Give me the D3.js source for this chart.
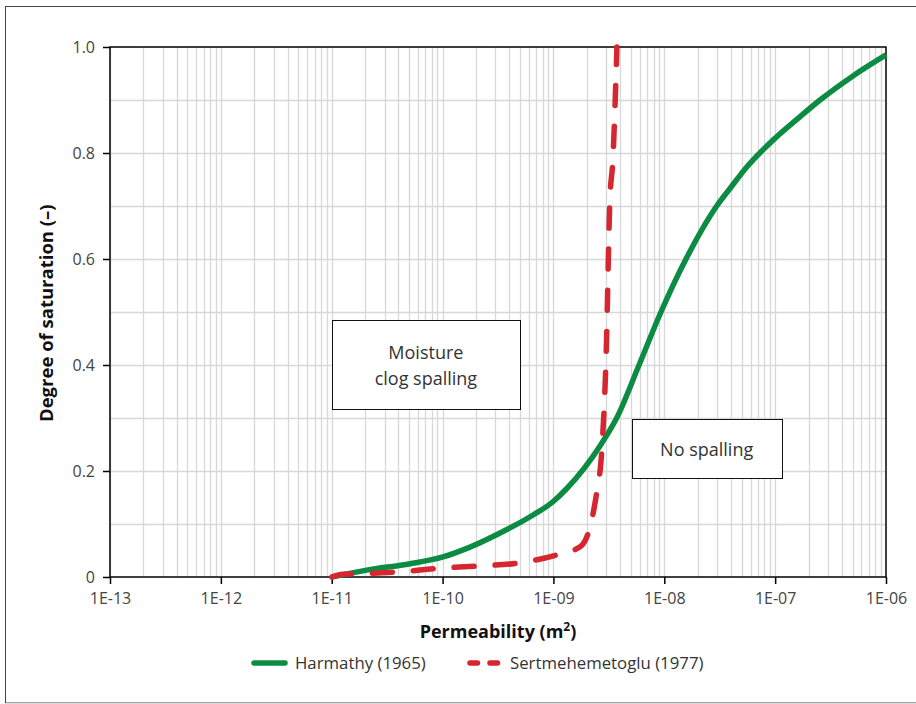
<!DOCTYPE html>
<html>
<head>
<meta charset="utf-8">
<script src="https://cdn.jsdelivr.net/npm/d3@7"></script>
<style>
    body { margin: 0; background: #fff; }
    svg text { font-family: "Open Sans", "Noto Sans", sans-serif; }
</style>
</head>
<body>
<div id="chart"></div>
<script>
/*------------------- Data --------------------*/
const harmathyK = [1.0e-11, 2.07e-11, 5.1e-11, 1.01e-10, 1.66e-10, 3.30e-10, 6.55e-10, 9.9e-10, 1.32e-9,
    2.72e-9, 3.72e-9, 5.92e-9, 9.33e-9, 1.57e-8, 2.97e-8, 3.98e-8, 5.62e-8, 1.0e-7, 1.58e-7, 2.54e-7, 5.0e-7, 1.0e-6];
const harmathyS = [0, 0.013, 0.025, 0.038, 0.054, 0.083, 0.117, 0.142, 0.167,
    0.252, 0.30, 0.40, 0.50, 0.60, 0.70, 0.735, 0.775, 0.828, 0.864, 0.900, 0.945, 0.985];

const sertK = [1.0e-11, 1.26e-11, 2.2e-11, 4.8e-11, 1.0e-10, 2.2e-10, 4.7e-10, 1.0e-9, 1.74e-9,
    2.14e-9, 2.45e-9, 2.72e-9, 2.98e-9, 3.24e-9, 3.42e-9, 3.74e-9];
const sertS = [0, 0.005, 0.007, 0.011, 0.017, 0.021, 0.026, 0.040, 0.057,
    0.095, 0.158, 0.234, 0.41, 0.718, 0.78, 1.0];

const xTicks = [1e-13, 1e-12, 1e-11, 1e-10, 1e-9, 1e-8, 1e-7, 1e-6];
const xTickLabels = ["1E-13", "1E-12", "1E-11", "1E-10", "1E-09", "1E-08", "1E-07", "1E-06"];
const yTicks = [0, 0.2, 0.4, 0.6, 0.8, 1.0];
const yTickLabels = ["0", "0.2", "0.4", "0.6", "0.8", "1.0"];

const seriesNames = ["Harmathy (1965)", "Sertmehemetoglu (1977)"];
const annotations = [
    { lines: ["Moisture", "clog spalling"], k0: 1.0e-11, k1: 5.0e-10, s0: 0.317, s1: 0.485 },
    { lines: ["No spalling"], k0: 5.08e-9, k1: 1.145e-7, s0: 0.186, s1: 0.2975 }
];

/*------------------- Setup --------------------*/
const width = 916, height = 704;
const margin = { left: 110, right: 30, top: 47, bottom: 127 };
const green = "#0b8c42", red = "#d62630";

const svg = d3.select("#chart").append("svg")
    .attr("width", width)
    .attr("height", height);

// outer frame
svg.append("rect")
    .attr("x", 5.5).attr("y", 6.5)
    .attr("width", 930).attr("height", 696.5)
    .attr("fill", "none").attr("stroke", "#444").attr("stroke-width", 1);
svg.append("line")
    .attr("x1", 5).attr("x2", width).attr("y1", 703.5).attr("y2", 703.5)
    .attr("stroke", "#ddd");

const x = d3.scaleLog().domain([1e-13, 1e-6]).range([margin.left, width - margin.right]);
const y = d3.scaleLinear().domain([0, 1]).range([height - margin.bottom, margin.top]);

/*------------------- Grid --------------------*/
const minorX = [];
for (let e = -13; e < -6; e++) {
    for (let m = 1; m <= 9; m++) minorX.push(m * Math.pow(10, e));
}
svg.append("g").selectAll("line")
    .data(minorX)
    .join("line")
    .attr("x1", d => Math.round(x(d)) + 0.5).attr("x2", d => Math.round(x(d)) + 0.5)
    .attr("y1", y(0)).attr("y2", y(1))
    .attr("stroke", "#d8d8d8").attr("stroke-width", 1.3);

svg.append("g").selectAll("line")
    .data(d3.range(1, 10).map(i => i / 10))
    .join("line")
    .attr("x1", x.range()[0]).attr("x2", x.range()[1])
    .attr("y1", d => Math.round(y(d)) + 0.5).attr("y2", d => Math.round(y(d)) + 0.5)
    .attr("stroke", "#d8d8d8").attr("stroke-width", 1.3);

/*------------------- Axes --------------------*/
svg.append("rect")
    .attr("x", x.range()[0]).attr("y", y(1))
    .attr("width", x.range()[1] - x.range()[0]).attr("height", y(0) - y(1))
    .attr("fill", "none").attr("stroke", "#000").attr("stroke-width", 1.5);

const xAxis = svg.append("g")
    .attr("transform", `translate(0,${y(0)})`)
    .call(d3.axisBottom(x).tickValues(xTicks).tickFormat((d, i) => xTickLabels[i]).tickSize(7).tickPadding(9));
xAxis.select(".domain").remove();
xAxis.selectAll(".tick line").attr("stroke", "#000").attr("stroke-width", 1.5);
xAxis.selectAll(".tick text").attr("font-size", 16).attr("fill", "#444")
    .attr("font-family", "'Open Sans', sans-serif");

const yAxis = svg.append("g")
    .attr("transform", `translate(${x.range()[0]},0)`)
    .call(d3.axisLeft(y).tickValues(yTicks).tickFormat((d, i) => yTickLabels[i]).tickSize(7).tickPadding(8));
yAxis.select(".domain").remove();
yAxis.selectAll(".tick line").attr("stroke", "#000").attr("stroke-width", 1.5);
yAxis.selectAll(".tick text").attr("font-size", 16).attr("fill", "#444")
    .attr("font-family", "'Open Sans', sans-serif");

// axis titles
const xTitle = svg.append("text")
    .attr("x", 498).attr("y", 638)
    .attr("text-anchor", "middle")
    .attr("font-size", 18).attr("font-weight", "bold").attr("fill", "#111");
xTitle.append("tspan").text("Permeability (m");
xTitle.append("tspan").attr("dy", -7).attr("font-size", 12).text("2");
xTitle.append("tspan").attr("dy", 7).text(")");

svg.append("text")
    .attr("transform", "translate(53,422) rotate(-90)")
    .attr("text-anchor", "start")
    .attr("font-size", 18.5).attr("font-weight", "bold").attr("fill", "#111")
    .text("Degree of saturation (–)");

/*------------------- Annotation boxes --------------------*/
annotations.forEach(a => {
    const bx = x(a.k0), bw = x(a.k1) - x(a.k0);
    const by = y(a.s1), bh = y(a.s0) - y(a.s1);
    svg.append("rect")
        .attr("x", Math.round(bx) + 0.5).attr("y", Math.round(by) + 0.5)
        .attr("width", Math.round(bw)).attr("height", Math.round(bh))
        .attr("fill", "#fff").attr("stroke", "#111").attr("stroke-width", 1);
    const t = svg.append("text")
        .attr("text-anchor", "middle")
        .attr("font-size", 18).attr("fill", "#333");
    const cy = by + bh / 2 - (a.lines.length - 1) * 13 + 7.5;
    a.lines.forEach((ln, i) => {
        t.append("tspan").attr("x", bx + bw / 2).attr("y", cy + i * 26).text(ln);
    });
});

/*------------------- Lines --------------------*/
const line = d3.line()
    .x(d => x(d[0]))
    .y(d => y(d[1]))
    .curve(d3.curveMonotoneX);

svg.append("path")
    .datum(harmathyK.map((k, i) => [k, harmathyS[i]]))
    .attr("d", line)
    .attr("fill", "none").attr("stroke", green).attr("stroke-width", 5.5)
    .attr("stroke-linejoin", "round");

svg.append("path")
    .datum(sertK.map((k, i) => [k, sertS[i]]))
    .attr("d", line)
    .attr("fill", "none").attr("stroke", red).attr("stroke-width", 5.5)
    .attr("stroke-linecap", "round")
    .attr("stroke-dasharray", "20,21");

/*------------------- Legend --------------------*/
const legend = svg.append("g");
legend.append("line")
    .attr("x1", 254).attr("x2", 285).attr("y1", 663).attr("y2", 663)
    .attr("stroke", green).attr("stroke-width", 5.5).attr("stroke-linecap", "round");
legend.append("text")
    .attr("x", 295).attr("y", 669)
    .attr("font-size", 16.8).attr("fill", "#333").text(seriesNames[0]);

legend.append("line")
    .attr("x1", 470).attr("x2", 500).attr("y1", 663).attr("y2", 663)
    .attr("stroke", red).attr("stroke-width", 5.5).attr("stroke-linecap", "round")
    .attr("stroke-dasharray", "7.5,12.5");
legend.append("text")
    .attr("x", 510).attr("y", 669)
    .attr("font-size", 16.8).attr("fill", "#333").text(seriesNames[1]);
</script>
</body>
</html>
